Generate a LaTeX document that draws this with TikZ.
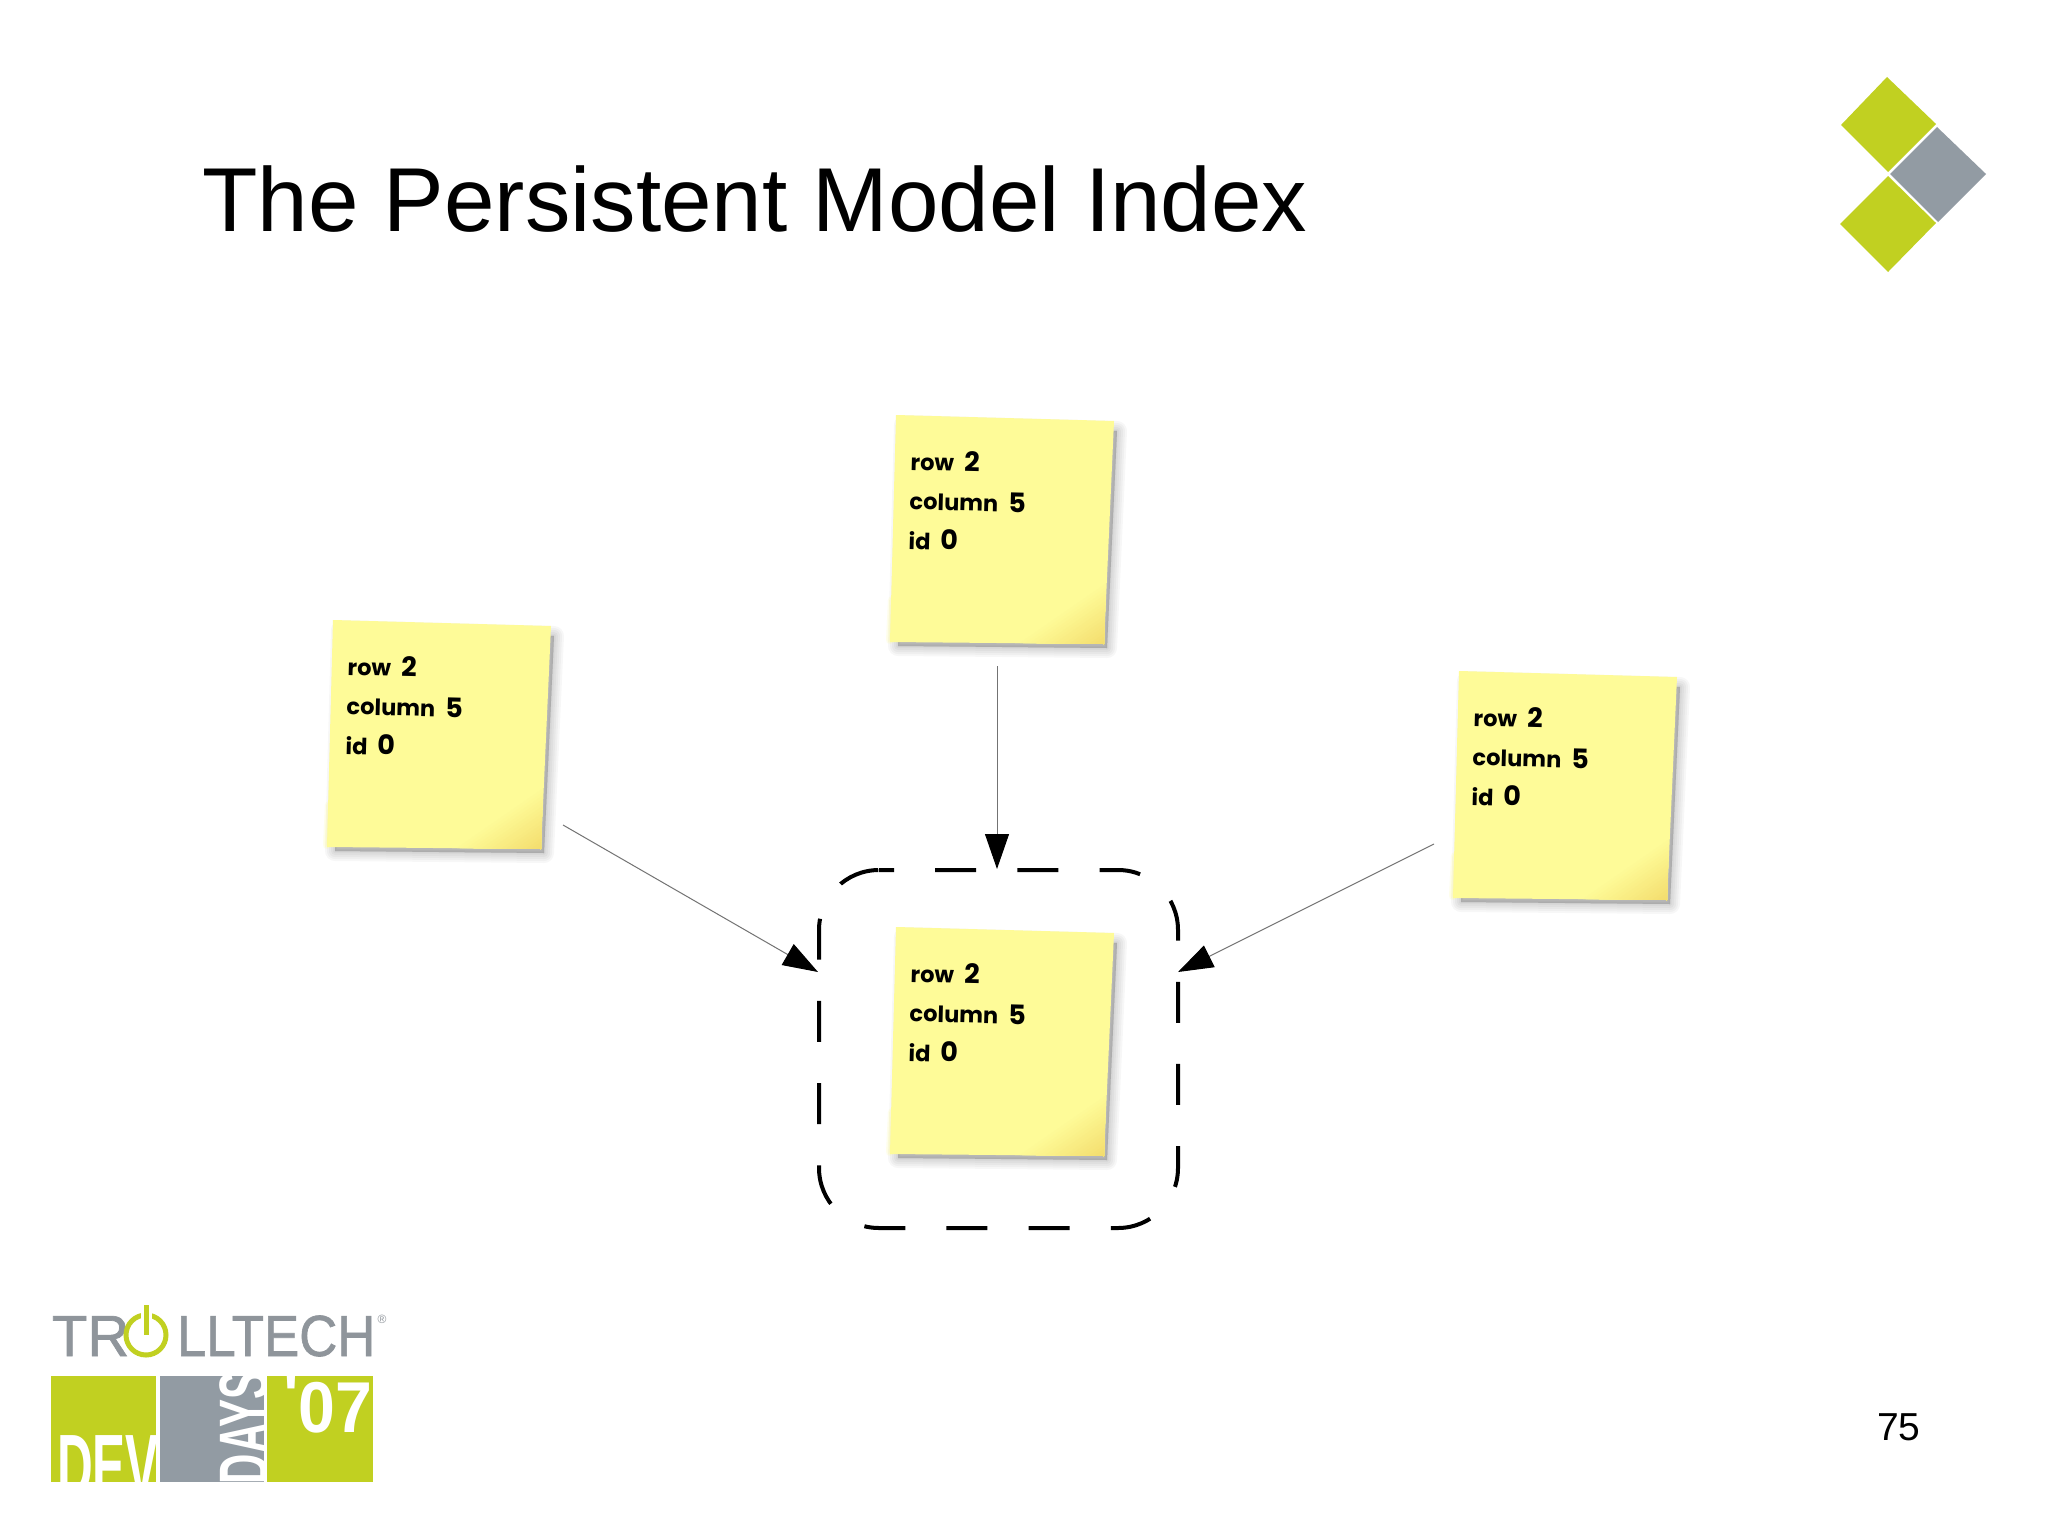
\documentclass[tikz,border=0pt]{standalone}
\usepackage{fontspec}
\usepackage{graphicx}
\setmainfont{Liberation Sans}
\newfontfamily\notefont[WordSpace=2.2]{Poppins}
\newfontfamily\logofont{Liberation Sans}
\newcommand{\bigdigit}[1]{{\fontsize{27}{39.5}\selectfont #1}}
\usetikzlibrary{arrows.meta,calc}
\definecolor{lime}{HTML}{C1D021}
\definecolor{slate}{HTML}{929BA3}
\definecolor{logogray}{HTML}{8F959B}
\definecolor{noteyellow}{HTML}{FEFB98}
\definecolor{notefold}{HTML}{F3DC6C}
\tikzset{
  x=1pt,y=-1pt,
  notetext/.style={font=\notefont\bfseries\fontsize{22.5}{39.5}\selectfont,align=left,anchor=north west,inner sep=0pt,outer sep=0pt,rotate=-1.5,text=black},
  link/.style={draw=black!55,line width=1pt,-{Triangle[length=35pt,width=24pt,color=black]},shorten >=0pt},
  boxframe/.style={minimum width=359pt,minimum height=358pt,inner sep=0pt,outer sep=0pt},
  dashline/.style={draw=black,line width=4pt,rounded corners=60pt,dash pattern=on 41pt off 41.2pt,dash phase=26pt},
  diamond lime/.style={fill=lime,draw=none},
  diamond slate/.style={fill=slate,draw=none},
  logotext/.style={font=\fontsize{58}{58}\selectfont\addfontfeature{FakeBold=1.2},text=logogray,inner sep=0pt,outer sep=0pt,anchor=base west},
  whitelogo/.style={text=white,inner sep=0pt,outer sep=0pt},
}
\newcommand{\stickynote}[3]{%
  \begin{scope}[shift={(#2,#3)}]
    \coordinate (TL) at (896,415);
    \coordinate (TR) at (1114,421);
    \coordinate (BR) at (1104,644);
    \coordinate (BL) at (890,642);
    % soft shadow
    \foreach \w in {20,16,12,8,4,1}{
      \fill[black,opacity=0.03,draw=black,draw opacity=0.03,line width=\w pt,line join=round]
        ([shift={(8,10)}]TL) -- ([shift={(3,10)}]TR) -- ([shift={(3,4)}]BR) -- ([shift={(8,4)}]BL) -- cycle;
    }
    % pale glow at the lower left edge
    \foreach \w in {8,5,2}{
      \draw[noteyellow,opacity=0.18,line width=\w pt,line cap=round] (890,640) -- (892,600);
    }
    \fill[noteyellow] (TL) -- (TR) -- (BR) -- (BL) -- cycle;
    % curled corner
    \foreach \t in {0,...,17}{
      \pgfmathsetmacro{\f}{\t/18}
      \pgfmathsetmacro{\p}{100*\f}
      \fill[notefold!\p!noteyellow]
        ($(1015,643)!\f!(BR)$) -- ($(1106,580)!\f!(BR)$) -- (BR) -- cycle;
    }
    \node[notetext] (#1) at (911,450) {row \bigdigit{2}\\column \bigdigit{5}\\id \bigdigit{0}};
  \end{scope}
}
\begin{document}
\begin{tikzpicture}
\useasboundingbox[fill=white] (0,0) rectangle (2048,1536);
% title and page number
\node[font=\fontsize{90.8}{91}\selectfont,anchor=base west,inner sep=0pt] (title) at (202,231) {The Persistent Model Index};
\node[font=\fontsize{39}{39}\selectfont,anchor=base west,inner sep=0pt] (pageno) at (1877,1440) {75};
% corner emblem
\fill[diamond lime] (1887,77) -- (1936,124) -- (1888,172) -- (1841,125) -- cycle;
\fill[diamond slate] (1937,127) -- (1986,174) -- (1938,222) -- (1890,174) -- cycle;
\fill[diamond lime] (1888,176) -- (1936,223) -- (1888,272) -- (1840,224) -- cycle;
% dashed box
\node[boxframe] (box) at (998.5,1049) {};
\draw[dashline] ($(box.north west)+(60,0)$) -- (box.north east) -- (box.south east) -- (box.south west) -- (box.north west) -- ($(box.north west)+(60,0)$);
% sticky notes
\stickynote{noteTop}{0}{0}
\stickynote{noteLeft}{-563}{205}
\stickynote{noteRight}{563}{256}
\stickynote{noteCenter}{0}{512}
% connectors
\coordinate (fromTop) at (997,666);
\coordinate (toTop) at (997,869);
\coordinate (fromLeft) at (563,825);
\coordinate (toLeft) at (818,972);
\coordinate (fromRight) at (1434,844);
\coordinate (toRight) at (1178,972);
\draw[link] (fromTop) -- (toTop);
\draw[link] (fromLeft) -- (toLeft);
\draw[link] (fromRight) -- (toRight);
% logo: wordmark
\node[logotext] (logoTR) at (52,1356) {TR};
\draw[lime,line width=5pt] (146,1335) circle (20);
\draw[white,line width=11pt] (146,1300) -- (146,1330);
\draw[lime,line width=5pt] (146,1305) -- (146,1335);
\node[logotext] (logoLL) at (177,1356) {\scalebox{0.91}[1]{LLTECH}};
\node[font=\fontsize{12}{12}\selectfont,text=logogray,inner sep=0pt] (logoReg) at (382,1319) {®};
% logo: blocks
\fill[lime] (51,1376) rectangle (156,1482);
\fill[slate] (160,1376) rectangle (264,1482);
\fill[lime] (267,1376) rectangle (373,1482);
\begin{scope}
  \clip (51,1376) rectangle (156,1482);
  \node[whitelogo,anchor=base west,font=\bfseries\fontsize{90}{90}\selectfont] (logoDEV) at (57,1497) {\scalebox{0.55}[1]{DEV}};
\end{scope}
\begin{scope}
  \clip (160,1376) rectangle (264,1482);
  \node[whitelogo,anchor=base west,rotate=90,font=\bfseries\fontsize{70}{70}\selectfont] (logoDAYS) at (268,1484) {\scalebox{0.6}[1]{DAYS}};
\end{scope}
\begin{scope}
  \clip (267,1376) rectangle (373,1482);
  \node[whitelogo,anchor=base west,font=\logofont\bfseries\fontsize{72}{72}\selectfont] (logoYear) at (283,1432) {\scalebox{0.92}[1]{\raisebox{12pt}{\symbol{39}}07}};
\end{scope}
\end{tikzpicture}
\end{document}
